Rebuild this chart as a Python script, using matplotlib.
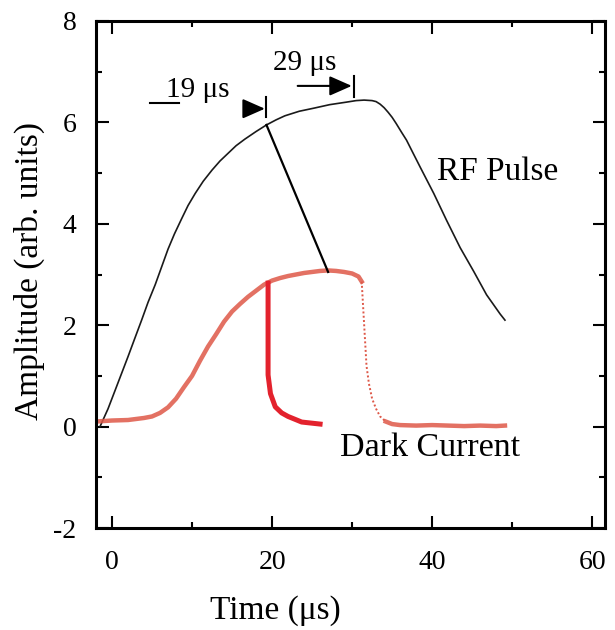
import matplotlib
matplotlib.use('Agg')
import matplotlib.pyplot as plt
from matplotlib.ticker import FixedLocator, MultipleLocator

plt.rcParams['font.family'] = ['Liberation Serif', 'DejaVu Serif']
plt.rcParams['axes.unicode_minus'] = False

# ---- data ----
rf_x = [-1.5, -0.5, 0.4, 1.2, 2.0, 2.8, 3.7, 4.5, 5.4, 6.2, 7.0, 7.8, 8.7, 9.5,
        10.4, 11.4, 12.5, 13.5, 14.5, 15.5, 16.6, 18.0, 19.3, 20.5, 21.6, 23.4,
        25.2, 27.2, 29.3, 30.5, 31.5, 32.5, 33.0, 33.5, 34.0, 34.5, 35.0, 35.5,
        36.2, 36.8, 37.6, 38.5, 40.2, 41.8, 43.5, 45.2, 46.8, 48.5, 49.1]
rf_y = [0.0, 0.35, 0.72, 1.05, 1.38, 1.72, 2.1, 2.45, 2.8, 3.15, 3.5, 3.8, 4.1,
        4.36, 4.6, 4.84, 5.06, 5.24, 5.39, 5.54, 5.67, 5.82, 5.95, 6.05, 6.13,
        6.22, 6.28, 6.35, 6.40, 6.43, 6.44, 6.43, 6.41, 6.36, 6.29, 6.2, 6.1,
        5.98, 5.8, 5.65, 5.4, 5.12, 4.6, 4.07, 3.53, 3.06, 2.6, 2.22, 2.1]

dc_rise_x = [-2.0, 0, 2, 4, 5, 6, 7, 8, 9, 10, 11, 12, 13, 14, 15, 16, 17, 18,
             19, 20, 21, 22, 24, 26, 27, 28, 29, 30, 30.8, 31.2]
dc_rise_y = [0.1, 0.12, 0.13, 0.17, 0.2, 0.27, 0.38, 0.55, 0.78, 1.0, 1.3, 1.58,
             1.82, 2.07, 2.27, 2.42, 2.56, 2.68, 2.8, 2.88, 2.93, 2.97, 3.03,
             3.07, 3.08, 3.07, 3.05, 3.02, 2.96, 2.86]
dc_fall_x = [31.2, 31.4, 31.6, 31.8, 32.1, 32.5, 33.0, 33.5, 34.2]
dc_fall_y = [2.86, 2.3, 1.75, 1.2, 0.85, 0.55, 0.35, 0.2, 0.1]
dc_tail_x = [34.2, 35.0, 36, 38, 40, 42, 44, 46, 48, 49.1]
dc_tail_y = [0.1, 0.05, 0.03, 0.02, 0.03, 0.02, 0.01, 0.02, 0.01, 0.02]

sim_x = [19.5, 19.5, 19.8, 20.4, 21.2, 22.0, 23.7, 26.0]
sim_y = [2.83, 1.02, 0.65, 0.39, 0.27, 0.2, 0.09, 0.05]

link_x = [19.3, 27.0]
link_y = [5.95, 3.05]

x_major = [0, 20, 40, 60]
x_minor = [10, 30, 50]

# ---- figure ----
fig = plt.figure(figsize=(6.15, 6.3), dpi=100)
ax = fig.add_axes([96 / 615, 102 / 630, 509 / 615, 507 / 630])

red_pts = '#de5848'
ax.plot(rf_x, rf_y, color='#1a1a1a', lw=1.2)
ax.plot(dc_rise_x, dc_rise_y, color=red_pts, lw=3.2, alpha=0.85)
ax.plot(dc_fall_x, dc_fall_y, color=red_pts, lw=1.4, ls=(0, (1, 1.2)))
ax.plot(dc_tail_x, dc_tail_y, color=red_pts, lw=3.2, alpha=0.85)
ax.plot(sim_x, sim_y, color='#e3222d', lw=3.6, solid_joinstyle='round')
ax.plot(link_x, link_y, color='black', lw=1.6)

# annotations
ax.text(6.8, 6.64, '19 μs', fontsize=21, ha='left', va='center')
ax.plot([4.7, 8.4], [6.39, 6.39], color='black', lw=1.5)
ax.annotate('', xy=(19.1, 6.27), xytext=(16.75, 6.27),
            arrowprops=dict(arrowstyle='-|>,head_length=0.68,head_width=0.3',
                            mutation_scale=20, color='black', lw=1.5,
                            shrinkA=0, shrinkB=0))
ax.plot([19.3, 19.3], [6.11, 6.5], color='black', lw=1.5)

ax.text(24.1, 7.17, '29 μs', fontsize=21, ha='center', va='center')
ax.annotate('', xy=(29.96, 6.72), xytext=(23.2, 6.72),
            arrowprops=dict(arrowstyle='-|>,head_length=0.68,head_width=0.3',
                            mutation_scale=20, color='black', lw=1.5,
                            shrinkA=0, shrinkB=0))
ax.plot([30.2, 30.2], [6.51, 6.92], color='black', lw=1.5)

ax.text(40.6, 5.02, 'RF Pulse', fontsize=24, ha='left', va='center')
ax.text(28.5, -0.42, 'Dark Current', fontsize=24.5, ha='left', va='center')

# axes
ax.set_xlim(-2, 61.6)
ax.set_ylim(-2, 8)
ax.xaxis.set_major_locator(FixedLocator(x_major))
ax.xaxis.set_minor_locator(FixedLocator(x_minor))
ax.yaxis.set_major_locator(MultipleLocator(2))
ax.yaxis.set_minor_locator(MultipleLocator(1))
ax.tick_params(which='both', direction='in', top=True, right=True,
               width=1.5, labelsize=20)
ax.tick_params(which='major', length=9)
ax.tick_params(which='minor', length=4.5)
ax.tick_params(axis='x', pad=16)
ax.tick_params(axis='y', pad=14)
for s in ax.spines.values():
    s.set_linewidth(2.2)

ax.set_xlabel('Time (μs)', fontsize=24)
ax.xaxis.set_label_coords(0.353, -0.162)
ax.xaxis.label.set_va('center')
ax.set_ylabel('Amplitude (arb. units)', fontsize=24)
ax.yaxis.set_label_coords(-0.13, 0.507)
ax.yaxis.label.set_va('center')

fig.savefig('out.png', dpi=100)
